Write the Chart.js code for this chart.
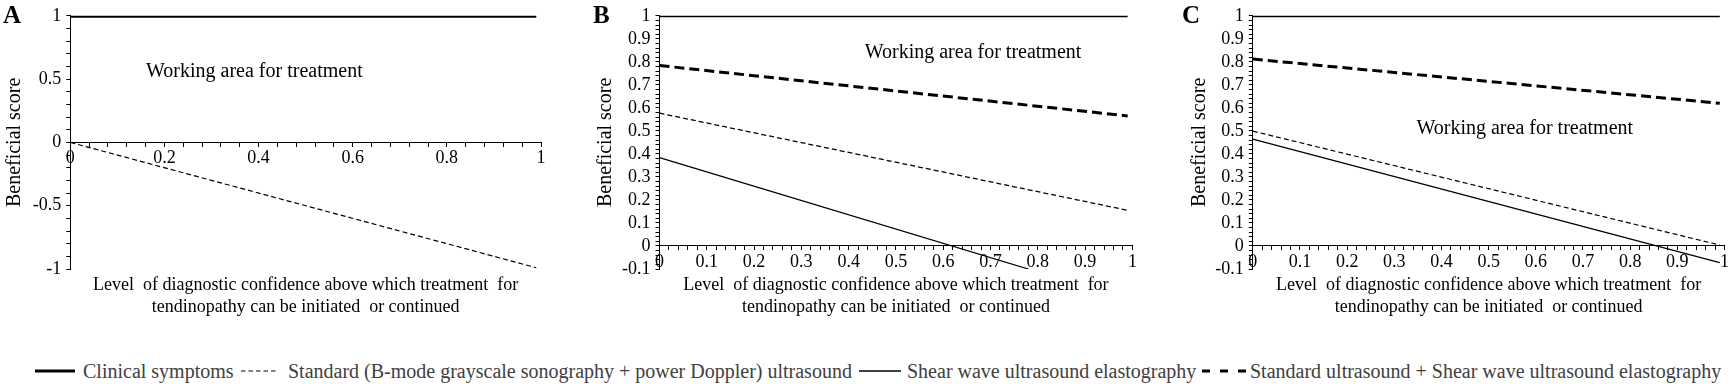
<!DOCTYPE html>
<html>
<head>
<meta charset="utf-8">
<title>Beneficial score</title>
<script src="https://cdn.jsdelivr.net/npm/chart.js@4.4.1/dist/chart.umd.min.js"></script>
<style>
  html, body { margin: 0; padding: 0; background: #fff; }
  #page { position: relative; width: 1732px; height: 384px; overflow: hidden;
          font-family: "Liberation Serif", "Times New Roman", serif; }
  canvas { position: absolute; top: 0; }
  .letter { position: absolute; top: 0; font-weight: bold; font-size: 25px; line-height: 30px; color: #000; }
  #legend { position: absolute; left: 0; top: 359px; width: 1732px; height: 24px; }
  .item { position: absolute; top: 0; height: 24px; display: flex; align-items: center;
          font-size: 20px; color: #404040; white-space: nowrap; }
  .item svg { flex: none; }
</style>
</head>
<body>
<div id="page">
  <canvas id="chartA" width="590" height="330" style="left:0px"></canvas>
  <canvas id="chartB" width="580" height="330" style="left:590px"></canvas>
  <canvas id="chartC" width="562" height="330" style="left:1170px"></canvas>
  <div class="letter" style="left:3px">A</div>
  <div class="letter" style="left:593px">B</div>
  <div class="letter" style="left:1182px">C</div>
  <div id="legend"></div>
</div>

<script>
// Data
const seriesNames = [
  "Clinical symptoms",
  "Standard (B-mode grayscale sonography + power Doppler) ultrasound",
  "Shear wave ultrasound elastography",
  "Standard ultrasound + Shear wave ultrasound elastography"
];

// Panel A
const aX = [0, 0.99];
const aClinical = [1, 1];
const aStandard = [0, -0.99];

// Panel B
const bX = [0, 0.99];
const bClinical = [1, 1];
const bStandard = [0.577, 0.155];
const bShearX = [0, 0.78];
const bShear = [0.384, -0.1];
const bCombined = [0.784, 0.565];

// Panel C
const cX = [0, 0.99];
const cClinical = [1, 1];
const cStandard = [0.499, 0.004];
const cShear = [0.464, -0.072];
const cCombined = [0.812, 0.62];

// Axis ticks
const aYTicks = [-1, -0.5, 0, 0.5, 1];
const aXTicks = [0, 0.2, 0.4, 0.6, 0.8, 1];
const bcYTicks = [-0.1, 0, 0.1, 0.2, 0.3, 0.4, 0.5, 0.6, 0.7, 0.8, 0.9, 1];
const bcXTicks = [0, 0.1, 0.2, 0.3, 0.4, 0.5, 0.6, 0.7, 0.8, 0.9, 1];

const xTitle = ["Level  of diagnostic confidence above which treatment  for",
                "tendinopathy can be initiated  or continued"];
const yTitle = "Beneficial score";
const noteText = "Working area for treatment";

// Styles
const FONT = '"Liberation Serif", "Times New Roman", serif';
const lineStyles = [
  { borderWidth: 2.8, borderDash: [] },      // clinical
  { borderWidth: 1.2, borderDash: [5, 3] },  // standard
  { borderWidth: 1.3, borderDash: [] },      // shear wave
  { borderWidth: 3, borderDash: [10, 5] }    // combined
];

function pts(xs, ys) {
  return xs.map((x, i) => ({ x: x, y: ys[i] }));
}

function ds(idx, data, extra) {
  return Object.assign({
    label: seriesNames[idx],
    data: data,
    borderColor: "#000",
    pointRadius: 0,
    fill: false,
    tension: 0
  }, lineStyles[idx], extra || {});
}

function tickLabel(list) {
  return function (value) {
    const hit = list.find(t => Math.abs(t - value) < 1e-6);
    return hit === undefined ? "" : String(hit);
  };
}

// "Working area for treatment" note, placed in data units
const notePlugin = {
  id: "note",
  afterDatasetsDraw(chart, args, opts) {
    const { ctx, scales } = chart;
    ctx.save();
    ctx.font = "20px " + FONT;
    ctx.fillStyle = "#000";
    ctx.textBaseline = "middle";
    ctx.textAlign = "left";
    ctx.fillText(noteText, scales.x.getPixelForValue(opts.x), scales.y.getPixelForValue(opts.y));
    ctx.restore();
  }
};

function makePanel(id, p) {
  return new Chart(document.getElementById(id), {
    type: "line",
    data: { datasets: p.datasets },
    options: {
      responsive: false,
      animation: false,
      events: [],
      layout: { padding: { left: p.padLeft, right: p.padRight, top: 11.5, bottom: 12 } },
      plugins: {
        legend: { display: false },
        tooltip: { enabled: false },
        title: {
          display: true,
          position: "bottom",
          fullSize: false,
          text: xTitle,
          color: "#000",
          font: { family: FONT, size: 18, weight: "normal", lineHeight: "22px" },
          padding: { top: 5, bottom: 0 }
        },
        note: { x: p.noteX, y: p.noteY }
      },
      scales: {
        x: {
          type: "linear",
          position: { y: 0 },
          min: 0,
          max: 1,
          ticks: {
            stepSize: p.xStep,
            autoSkip: false,
            maxRotation: 0,
            padding: 1,
            color: "#000",
            font: { family: FONT, size: 18 },
            callback: tickLabel(p.xTicks)
          },
          grid: { drawOnChartArea: false, tickLength: 4, tickColor: "#000" },
          border: { color: "#000", width: 1 }
        },
        y: {
          type: "linear",
          position: "left",
          min: p.yMin,
          max: 1,
          ticks: {
            stepSize: p.yStep,
            autoSkip: false,
            padding: 5,
            color: "#000",
            font: { family: FONT, size: 18 },
            callback: tickLabel(p.yTicks)
          },
          grid: { drawOnChartArea: false, tickLength: 4, tickColor: "#000" },
          border: { color: "#000", width: 1 },
          title: {
            display: true,
            text: yTitle,
            color: "#000",
            font: { family: FONT, size: 20 },
            padding: { top: 1, bottom: 0 }
          },
          afterFit: function (scale) { scale.width = p.yWidth; }
        }
      }
    },
    plugins: [notePlugin]
  });
}

makePanel("chartA", {
  datasets: [ds(0, pts(aX, aClinical), { borderWidth: 4 }), ds(1, pts(aX, aStandard))],
  yMin: -1, yStep: 0.1, yTicks: aYTicks,
  xStep: 0.04, xTicks: aXTicks,
  padLeft: 2, yWidth: 68.3, padRight: 49,
  noteX: 0.161, noteY: 0.556
});

makePanel("chartB", {
  datasets: [ds(0, pts(bX, bClinical)), ds(1, pts(bX, bStandard)),
             ds(2, pts(bShearX, bShear)), ds(3, pts(bX, bCombined))],
  yMin: -0.1, yStep: 0.02, yTicks: bcYTicks,
  xStep: 0.02, xTicks: bcXTicks,
  padLeft: 3, yWidth: 66.5, padRight: 37.6,
  noteX: 0.434, noteY: 0.838
});

makePanel("chartC", {
  datasets: [ds(0, pts(cX, cClinical)), ds(1, pts(cX, cStandard)),
             ds(2, pts(cX, cShear)), ds(3, pts(cX, cCombined))],
  yMin: -0.1, yStep: 0.02, yTicks: bcYTicks,
  xStep: 0.02, xTicks: bcXTicks,
  padLeft: 16.4, yWidth: 66.4, padRight: 7.5,
  noteX: 0.347, noteY: 0.509
});

// Shared legend under the three panels
const legendLeft = [35, 241, 859, 1202];
const sampleWidth = [40, 37, 42, 45];
const sampleGap = [8, 10, 6, 3];
const legendDash = ["", "4.5,3", "", "8,10"];
const legend = document.getElementById("legend");
seriesNames.forEach((name, i) => {
  const item = document.createElement("div");
  item.className = "item";
  item.style.left = legendLeft[i] + "px";
  const w = sampleWidth[i];
  item.innerHTML =
    `<svg width="${w}" height="24"><line x1="0" y1="12" x2="${w}" y2="12" stroke="#000"
      stroke-width="${lineStyles[i].borderWidth}" ${legendDash[i] ? `stroke-dasharray="${legendDash[i]}"` : ""}/></svg>` +
    `<span style="margin-left:${sampleGap[i]}px">${name}</span>`;
  legend.appendChild(item);
});
</script>
</body>
</html>
